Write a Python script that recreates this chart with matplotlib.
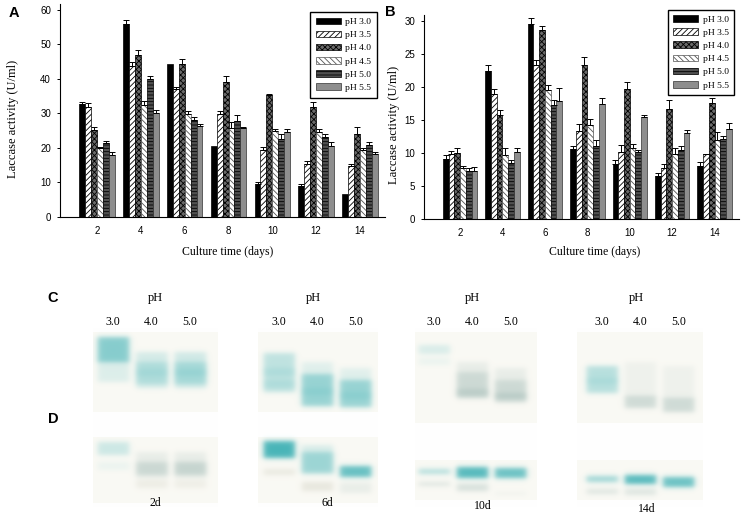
import numpy as np
import matplotlib.pyplot as plt

plt.rcParams['hatch.linewidth'] = 0.6
SERIF = 'Liberation Serif'
SANS = 'Liberation Sans'

days = [2, 4, 6, 8, 10, 12, 14]
ph_names = ['pH 3.0', 'pH 3.5', 'pH 4.0', 'pH 4.5', 'pH 5.0', 'pH 5.5']

# panel A, one row per pH
a_mean = [[32.7, 55.9, 44.3, 20.6, 9.5, 8.9, 6.6],
          [32.0, 43.6, 37.0, 29.8, 19.3, 15.3, 14.8],
          [25.3, 47.0, 44.3, 39.0, 35.2, 31.8, 24.1],
          [20.0, 32.5, 29.8, 25.9, 25.0, 24.5, 19.3],
          [21.4, 39.9, 28.2, 27.7, 22.7, 23.1, 20.9],
          [18.0, 30.1, 26.4, 25.9, 24.5, 20.7, 18.3]]
a_err = [[0.7, 1.3, 0.0, 0.0, 0.6, 0.8, 0.0],
         [0.9, 1.3, 0.6, 1.0, 1.0, 0.8, 0.6],
         [0.7, 1.3, 1.6, 1.8, 0.3, 1.4, 2.0],
         [0.3, 1.0, 0.9, 1.7, 0.6, 1.0, 0.8],
         [0.6, 0.8, 0.9, 1.8, 1.3, 0.8, 0.9],
         [0.7, 1.0, 0.6, 0.2, 1.0, 1.1, 0.6]]

# panel B
b_mean = [[9.1, 22.4, 29.6, 10.6, 8.3, 6.5, 8.1],
          [9.8, 18.9, 23.4, 13.3, 10.1, 7.7, 9.8],
          [10.0, 15.8, 28.7, 23.4, 19.7, 16.6, 17.5],
          [7.7, 9.7, 19.5, 14.2, 10.7, 9.8, 12.0],
          [7.3, 8.5, 17.3, 11.0, 10.1, 10.4, 12.1],
          [7.3, 10.2, 17.9, 17.4, 15.5, 13.0, 13.7]]
b_err = [[0.6, 0.9, 0.9, 0.5, 0.7, 0.4, 0.6],
         [0.5, 0.8, 0.7, 1.1, 1.1, 0.6, 0.1],
         [0.8, 0.7, 0.6, 1.1, 1.0, 1.4, 0.9],
         [0.3, 1.0, 0.8, 1.0, 0.7, 0.9, 1.2],
         [0.4, 0.4, 0.8, 0.9, 0.4, 0.7, 0.5],
         [0.6, 0.6, 1.9, 0.9, 0.2, 0.5, 0.9]]

bar_face = ['black', 'white', '#6a6a6a', 'white', '#505050', '#8e8e8e']
bar_hatch = [None, '//////', 'xxxxxx', '\\\\\\\\\\\\', '-----', None]
bar_edge = ['black', 'black', 'black', '#555555', 'black', '#333333']

# zymogram gels: day label, lanes (pH), bands = (lane, top, bottom, strength, tint)
gel_days = ['2d', '6d', '10d', '14d']
gel_lanes = ['3.0', '4.0', '5.0']
gel_bands = [
    [(0, 337, 362, 0.55, 't'), (0, 360, 382, 0.14, 't'),
     (1, 352, 388, 0.18, 't'), (1, 362, 384, 0.22, 't'), (1, 369, 376, 0.10, 't'),
     (2, 352, 388, 0.20, 't'), (2, 362, 384, 0.26, 't'), (2, 369, 376, 0.12, 't'),
     (0, 442, 455, 0.22, 't'), (0, 462, 470, 0.07, 't'),
     (1, 452, 478, 0.12, 'g'), (1, 462, 475, 0.24, 'g'), (1, 480, 488, 0.14, 'b'),
     (2, 452, 478, 0.12, 'g'), (2, 462, 475, 0.28, 'g'), (2, 480, 488, 0.12, 'b')],
    [(0, 353, 392, 0.28, 't'), (0, 368, 376, 0.12, 't'), (0, 380, 388, 0.12, 't'),
     (1, 362, 406, 0.12, 't'), (1, 374, 406, 0.40, 't'), (1, 388, 395, 0.12, 't'),
     (2, 368, 407, 0.12, 't'), (2, 380, 407, 0.40, 't'), (2, 392, 399, 0.12, 't'),
     (0, 441, 458, 0.85, 't'), (0, 469, 475, 0.18, 'b'),
     (1, 445, 474, 0.15, 't'), (1, 452, 473, 0.35, 't'), (1, 482, 491, 0.20, 'b'),
     (2, 466, 477, 0.72, 't'), (2, 483, 493, 0.12, 'g')],
    [(0, 345, 354, 0.16, 't'), (0, 358, 365, 0.07, 't'),
     (1, 362, 398, 0.12, 'g'), (1, 372, 398, 0.22, 'g'), (1, 389, 396, 0.20, 'g'),
     (2, 368, 402, 0.12, 'g'), (2, 380, 402, 0.22, 'g'), (2, 393, 399, 0.22, 'g'),
     (0, 469, 474, 0.35, 't'), (0, 482, 486, 0.20, 'g'),
     (1, 467, 478, 0.80, 't'), (1, 484, 491, 0.25, 'g'),
     (2, 468, 478, 0.70, 't'), (2, 492, 495, 0.08, 'g')],
    [(0, 366, 393, 0.32, 't'), (0, 378, 384, 0.10, 't'),
     (1, 362, 398, 0.08, 'g'), (1, 396, 408, 0.30, 'g'),
     (2, 366, 400, 0.08, 'g'), (2, 398, 412, 0.30, 'g'),
     (0, 476, 482, 0.45, 't'), (0, 489, 494, 0.20, 'g'),
     (1, 475, 484, 0.80, 't'), (1, 489, 495, 0.20, 'g'),
     (2, 477, 487, 0.70, 't')],
]
gel_box = [dict(lane0=113, left=93, right=217, c=(332, 412), d=(437, 503), day_y=503, ph_x=1.1, day_x=1.1),
           dict(lane0=279, left=258, right=378, c=(332, 412), d=(437, 503), day_y=503, ph_x=0.9, day_x=1.25),
           dict(lane0=434, left=415, right=537, c=(332, 423), d=(460, 500), day_y=506, ph_x=1.0, day_x=1.27),
           dict(lane0=602, left=577, right=703, c=(332, 423), d=(460, 500), day_y=509, ph_x=0.9, day_x=1.17)]
tints = {'t': np.array([0.16, 0.66, 0.68]),
         'g': np.array([0.42, 0.58, 0.56]),
         'b': np.array([0.62, 0.62, 0.52])}

W, H = 743, 522
fig = plt.figure(figsize=(W / 100, H / 100), dpi=100)


def px_axes(x0, y0, x1, y1):
    return fig.add_axes([x0 / W, 1 - y1 / H, (x1 - x0) / W, (y1 - y0) / H])


def bar_panel(ax, means, errs, top, ystep, label_x):
    w = 0.27
    for i in range(6):
        x = np.array(days) + (i - 2.5) * w
        ax.bar(x, means[i], w, color=bar_face[i], edgecolor=bar_edge[i],
               hatch=bar_hatch[i], linewidth=0.5, label=ph_names[i], zorder=2)
        e = np.array(errs[i])
        m = e > 0
        ax.errorbar(x[m], np.array(means[i])[m], yerr=[np.zeros(m.sum()), e[m]],
                    fmt='none', ecolor='black', elinewidth=0.7, capsize=2.5,
                    capthick=0.7, zorder=3)
    ax.set_xlim(0.3, 15.15)
    ax.set_ylim(0, top)
    ax.set_xticks(days)
    ax.set_yticks(np.arange(0, top, ystep))
    for s in ['top', 'right']:
        ax.spines[s].set_visible(False)
    for s in ['left', 'bottom']:
        ax.spines[s].set_linewidth(0.8)
    ax.tick_params(axis='x', length=0, pad=6.5, labelsize=7)
    ax.tick_params(axis='y', length=2.5, width=0.7, pad=4, labelsize=7)
    for t in ax.get_xticklabels() + ax.get_yticklabels():
        t.set_fontfamily(SANS)
    ax.set_xlabel('Culture time (days)', fontfamily=SERIF, fontsize=8.5)
    ax.set_ylabel('Laccase activity (U/ml)', fontfamily=SERIF, fontsize=9)
    ax.yaxis.set_label_coords(label_x, 0.46)


def add_legend(ax, anchor):
    leg = ax.legend(loc='upper right', bbox_to_anchor=anchor, fancybox=False,
                    edgecolor='black', framealpha=1, handlelength=2.6, handleheight=0.7,
                    handletextpad=0.5, labelspacing=0.48, borderpad=0.6,
                    prop={'family': SERIF, 'size': 6.8})
    leg.get_frame().set_linewidth(1.0)


axA = px_axes(60, 4, 385, 217)
bar_panel(axA, a_mean, a_err, 61.7, 10, -0.125)
axA.xaxis.set_label_coords(0.517, -0.135)
add_legend(axA, (0.99, 0.985))

axB = px_axes(424, 15, 739, 219)
bar_panel(axB, b_mean, b_err, 30.9, 5, -0.076)
axB.xaxis.set_label_coords(0.543, -0.132)
add_legend(axB, (1.0, 1.05))

fig.text(14 / W, 1 - 13 / H, 'A', fontfamily=SANS, fontweight='bold', fontsize=10.5, ha='center', va='center')
fig.text(390 / W, 1 - 12 / H, 'B', fontfamily=SANS, fontweight='bold', fontsize=10.5, ha='center', va='center')
fig.text(53 / W, 1 - 298 / H, 'C', fontfamily=SANS, fontweight='bold', fontsize=10.5, ha='center', va='center')
fig.text(53 / W, 1 - 419 / H, 'D', fontfamily=SANS, fontweight='bold', fontsize=10.5, ha='center', va='center')


def smooth_box(t, a, b, s):
    return 0.5 * (np.tanh((t - a) / s) - np.tanh((t - b) / s))


Y0, Y1 = 285, 520
G0, G1 = 328, 507
spacing = 38.5
for g, box in enumerate(gel_box):
    ax = px_axes(box['left'], Y0, box['right'], Y1)
    x_lo = (box['left'] - box['lane0']) / spacing
    x_hi = (box['right'] - box['lane0']) / spacing
    nx = box['right'] - box['left']
    xs = np.linspace(x_lo, x_hi, nx)
    ys = np.arange(G0, G1) + 0.5
    img = np.ones((len(ys), nx, 3))
    for (r0, r1) in (box['c'], box['d']):
        rows = (ys >= r0) & (ys <= r1)
        img[rows] = [0.98, 0.978, 0.958]
    for lane, top, bot, strength, tint in gel_bands[g]:
        prof = strength * np.outer(smooth_box(ys, top, bot, 3.0),
                                   smooth_box(xs, lane - 0.41, lane + 0.41, 0.09))
        prof = np.clip(prof, 0, 1)[:, :, None]
        img = img * (1 - prof) + tints[tint] * prof
    ax.imshow(img, extent=(x_lo, x_hi, G1 - Y0, G0 - Y0), aspect='auto',
              interpolation='bilinear')
    ax.set_xlim(x_lo, x_hi)
    ax.set_ylim(Y1 - Y0, 0)
    ax.set_axis_off()
    ax.text(box['ph_x'], 298 - Y0, 'pH', fontfamily=SERIF, fontsize=9, ha='center', va='center')
    for k, lab in enumerate(gel_lanes):
        ax.text(k, 322 - Y0, lab, fontfamily=SERIF, fontsize=8.5, ha='center', va='center')
    ax.text(box['day_x'], box['day_y'] - Y0, gel_days[g], fontfamily=SERIF, fontsize=8.5,
            ha='center', va='center')

fig.savefig('out.png', dpi=100)
